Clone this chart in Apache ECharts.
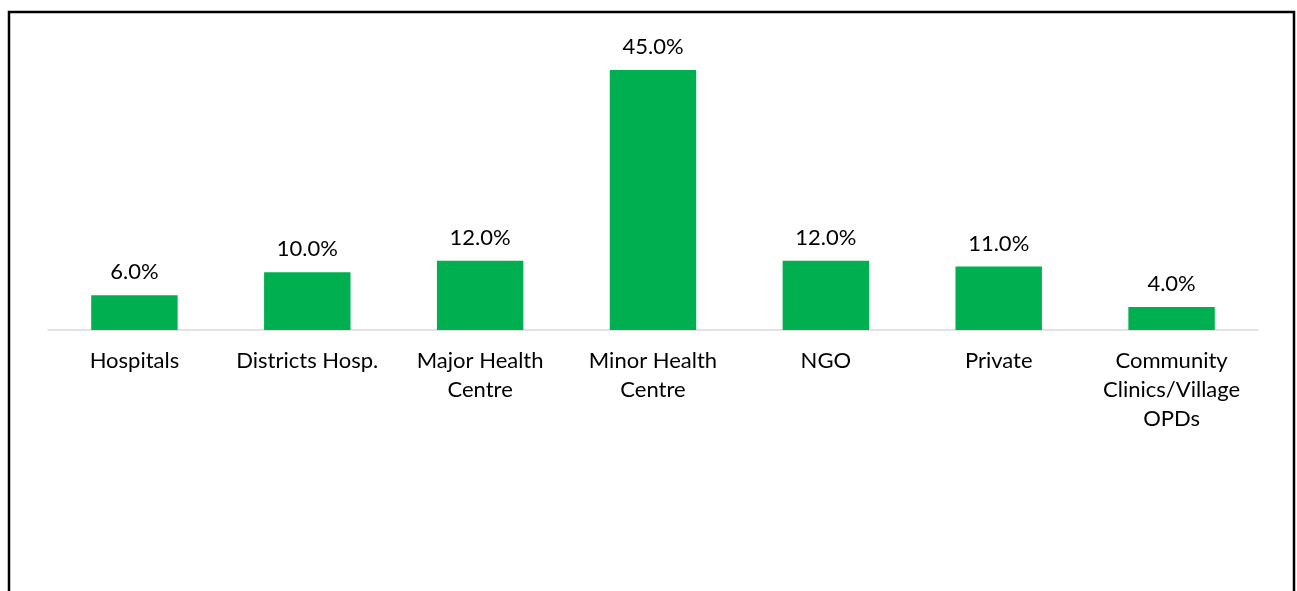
<!DOCTYPE html>
<html>
<head>
<meta charset="utf-8">
<script src="https://cdn.jsdelivr.net/npm/echarts@6/dist/echarts.min.js"></script>
<style>
html,body{margin:0;padding:0;background:#fff;}
#chart{width:1297px;height:591px;}
</style>
</head>
<body>
<div id="chart"></div>
<script>
const categories = ["Hospitals", "Districts Hosp.", "Major Health\nCentre", "Minor Health\nCentre", "NGO", "Private", "Community\nClinics/Village\nOPDs"];
const values = [6.0, 10.0, 12.0, 45.0, 12.0, 11.0, 4.0];

const chart = echarts.init(document.getElementById('chart'));
chart.setOption({
  animation: false,
  backgroundColor: '#ffffff',
  graphic: [{
    type: 'rect',
    shape: { x: 9, y: 12, width: 1285, height: 700 },
    style: { fill: 'none', stroke: '#000000', lineWidth: 2.5 },
    silent: true
  }],
  grid: { left: 48, right: 39, top: 41, bottom: 261, containLabel: false },
  xAxis: {
    type: 'category',
    data: categories,
    axisLine: { show: true, lineStyle: { color: '#d9d9d9', width: 1.5 } },
    axisTick: { show: false },
    axisLabel: {
      interval: 0,
      color: '#000000',
      fontFamily: 'Lato',
      fontSize: 22,
      lineHeight: 29,
      margin: 16
    }
  },
  yAxis: {
    type: 'value',
    min: 0,
    max: 50,
    show: false,
    splitLine: { show: false }
  },
  series: [{
    type: 'bar',
    data: values,
    barWidth: '50%',
    itemStyle: { color: '#00b050' },
    label: {
      show: true,
      position: 'top',
      distance: 12,
      color: '#000000',
      fontFamily: 'Lato',
      fontSize: 22,
      formatter: p => p.value.toFixed(1) + '%'
    }
  }]
});
</script>
</body>
</html>
